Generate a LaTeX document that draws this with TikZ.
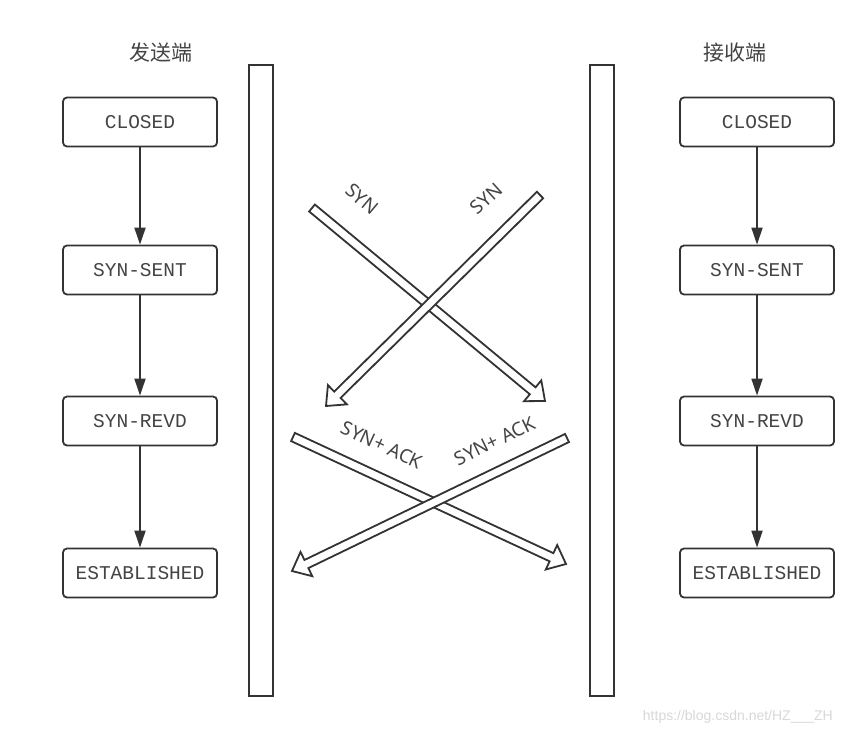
\documentclass[tikz,border=0pt]{standalone}
\usepackage{fontspec}
\setmainfont{Noto Sans}
\setmonofont{Liberation Mono}
\newfontfamily\cjk{Noto Sans CJK SC}
\newfontfamily\wmfont{Liberation Sans}
\usetikzlibrary{arrows.meta,calc}
\definecolor{ink}{HTML}{333333}
\definecolor{txt}{HTML}{444444}
\definecolor{wm}{HTML}{D8D8D8}
\tikzset{
 state/.style={draw=ink, line width=1.8pt, rounded corners=4pt, minimum width=154pt, minimum height=49pt, inner sep=0pt, font=\ttfamily\fontsize{19.5}{19.5}\selectfont, text=txt, fill=white},
 bar/.style={draw=ink, line width=1.8pt, inner sep=0pt, minimum width=24pt, minimum height=631pt},
 flow/.style={draw=ink, line width=1.8pt, -{Triangle[length=17pt,width=11pt]}},
 harrow/.style={draw=ink, line width=1.8pt, fill=white, line join=miter},
 lab/.style={font=\fontsize{19}{19}\selectfont, text=txt, inner sep=0pt},
 title/.style={font=\cjk\fontsize{21}{21}\selectfont, text=txt, inner sep=0pt},
}
\newcommand\hollowarrow[2]{%
 \coordinate (#1-n) at ($(#2)!16pt!(#1)$);
 \draw[harrow] ($(#1)!4.5pt!90:(#2)$) -- ($(#1-n)!4.5pt!90:(#2)$) -- ($(#1-n)!13.5pt!90:(#2)$) -- (#2)
   -- ($(#1-n)!13.5pt!-90:(#2)$) -- ($(#1-n)!4.5pt!-90:(#2)$) -- ($(#1)!4.5pt!-90:(#2)$) -- cycle;}
\begin{document}
\begin{tikzpicture}[x=1pt,y=-1pt]
\useasboundingbox[fill=white] (0,0) rectangle (842,735);
% titles
\node[title] (tl) at (161,53) {发送端};
\node[title] (tr) at (735,53) {接收端};
% bars
\node[bar] (lbar) at (261,380.5) {};
\node[bar] (rbar) at (602,380.5) {};
% left states
\node[state] (l1) at (140,122) {CLOSED};
\node[state] (l2) at (140,270) {SYN-SENT};
\node[state] (l3) at (140,421) {SYN-REVD};
\node[state] (l4) at (140,573) {ESTABLISHED};
% right states
\node[state] (r1) at (757,122) {CLOSED};
\node[state] (r2) at (757,270) {SYN-SENT};
\node[state] (r3) at (757,421) {SYN-REVD};
\node[state] (r4) at (757,573) {ESTABLISHED};
\draw[flow] (l1) -- (l2);
\draw[flow] (l2) -- (l3);
\draw[flow] (l3) -- (l4);
\draw[flow] (r1) -- (r2);
\draw[flow] (r2) -- (r3);
\draw[flow] (r3) -- (r4);
% hollow arrows
\coordinate (a1) at (312,208); \coordinate (b1) at (545,401);
\coordinate (a2) at (540,195); \coordinate (b2) at (326,406);
\coordinate (a3) at (293,437); \coordinate (b3) at (566,564);
\coordinate (a4) at (567,438); \coordinate (b4) at (292,571);
\hollowarrow{a1}{b1}
\hollowarrow{a2}{b2}
\hollowarrow{a3}{b3}
\hollowarrow{a4}{b4}
\node[lab, rotate=-40] (s1) at (362,199) {SYN};
\node[lab, rotate=42] (s2) at (486,199) {SYN};
\node[lab, rotate=-25] (s3) at (382,445) {SYN+ ACK};
\node[lab, rotate=26] (s4) at (495,441) {SYN+ ACK};
% watermark
\node[font=\wmfont\fontsize{14}{14}\selectfont, text=wm, anchor=east, inner sep=0pt] (wm) at (833,717) {https://blog.csdn.net/HZ\_\_\_ZH};
\end{tikzpicture}
\end{document}
